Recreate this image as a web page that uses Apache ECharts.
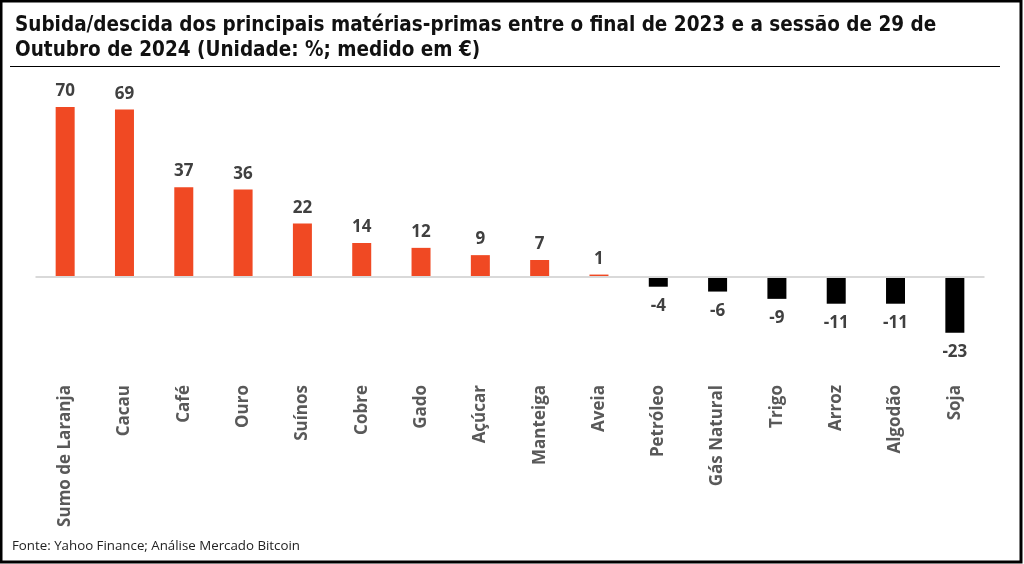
<!DOCTYPE html>
<html>
<head>
<meta charset="utf-8">
<script src="https://cdn.jsdelivr.net/npm/echarts@6/dist/echarts.min.js"></script>
<style>
html,body{margin:0;padding:0;background:#fff;}
#chart{width:1024px;height:564px;}
</style>
</head>
<body>
<div id="chart"></div>
<script>
const titleText = 'Subida/descida dos principais matérias-primas entre o final de 2023 e a sessão de 29 de\nOutubro de 2024 (Unidade: %; medido em €)';
const sourceText = 'Fonte: Yahoo Finance; Análise Mercado Bitcoin';
const categories = ['Sumo de Laranja','Cacau','Café','Ouro','Suínos','Cobre','Gado','Açúcar','Manteiga','Aveia','Petróleo','Gás Natural','Trigo','Arroz','Algodão','Soja'];
const values = [70,69,37,36,22,14,12,9,7,1,-4,-6,-9,-11,-11,-23];

const chart = echarts.init(document.getElementById('chart'));
chart.setOption({
  backgroundColor:'#fff',
  animation:false,
  title:{
    text:titleText, left:10, top:8,
    textStyle:{fontFamily:'DejaVu Sans Condensed', fontWeight:'bold', fontSize:20.5, color:'#111', lineHeight:25}
  },
  graphic:[
    {type:'line', shape:{x1:10,y1:66.5,x2:1000,y2:66.5}, style:{stroke:'#000',lineWidth:1}},
    {type:'text', left:12, top:540, style:{text:sourceText, font:'13.3px "Open Sans"', fill:'#222'}},
    {type:'rect', shape:{x:1,y:1,width:1020,height:561}, style:{fill:null, stroke:'#000', lineWidth:3}}
  ],
  grid:{left:35.5, right:39.5, top:107, bottom:185, containLabel:false},
  xAxis:{
    type:'category', data:categories,
    axisLine:{show:false, onZero:false}, axisTick:{show:false},
    axisLabel:{rotate:90, margin:6, interval:0, color:'#595959', fontFamily:'Open Sans', fontWeight:'bold', fontSize:17}
  },
  yAxis:{type:'value', min:-42, max:70, show:false, splitLine:{show:false}},
  series:[{
    type:'bar', barWidth:19,
    data:values.map(v=>({
      value:v,
      itemStyle:{color: v>=0 ? '#F04923' : '#000000'},
      label:{position: v>=0 ? 'top' : 'bottom', distance: v>=0 ? 7 : 11}
    })),
    label:{show:true, color:'#404040', fontFamily:'Open Sans', fontWeight:'bold', fontSize:17},
    markLine:{
      silent:true, symbol:'none', label:{show:false},
      lineStyle:{type:'solid', color:'#d9d9d9', width:2},
      data:[{yAxis:0}]
    }
  }]
});
</script>
</body>
</html>
